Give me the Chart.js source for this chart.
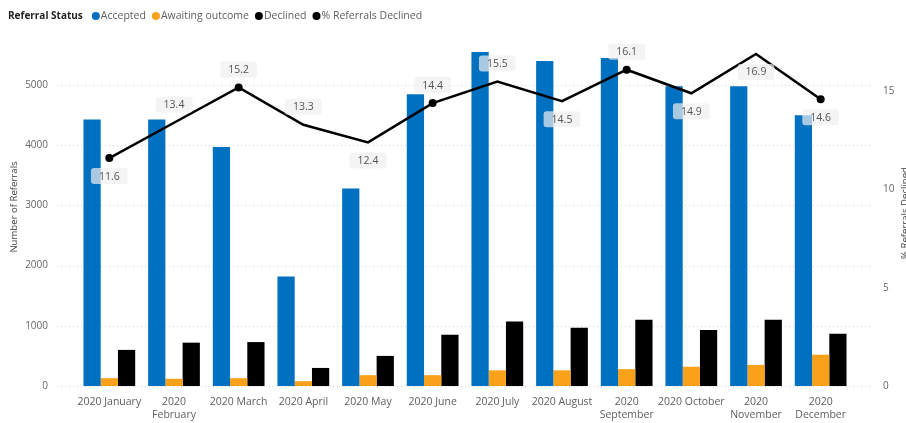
<!DOCTYPE html>
<html>
<head>
<meta charset="utf-8">
<title>Referral Status 2020</title>
<script src="https://cdn.jsdelivr.net/npm/chart.js@4.4.1/dist/chart.umd.min.js"></script>
<style>
  html, body { margin: 0; padding: 0; background: #fff; }
  #wrap { width: 906px; height: 423px; position: relative; }
</style>
</head>
<body>
<div id="wrap"><canvas id="referrals"></canvas></div>
<script>
const months = [
    '2020 January', ['2020', 'February'], '2020 March', '2020 April', '2020 May', '2020 June',
    '2020 July', '2020 August', ['2020', 'September'], '2020 October', ['2020', 'November'], ['2020', 'December']
];
const accepted = [4430, 4430, 3970, 1820, 3280, 4850, 5550, 5400, 5450, 4980, 4980, 4500];
const awaiting = [130, 120, 130, 80, 180, 180, 260, 260, 280, 320, 350, 520];
const declined = [600, 720, 730, 300, 500, 850, 1070, 970, 1100, 930, 1100, 870];
const pctDeclined = [11.6, 13.4, 15.2, 13.3, 12.4, 14.4, 15.5, 14.5, 16.1, 14.9, 16.9, 14.6];

const countTicks = [0, 1000, 2000, 3000, 4000, 5000];
const pctTicks = [0, 5, 10, 15];

const FONT = '"Open Sans", "DejaVu Sans", sans-serif';
const BLUE = '#0070C0';
const ORANGE = '#F9A11B';

// which line labels sit under their point instead of above
const labelsBelow = [0, 4, 7, 9, 10, 11];
// points that get a visible marker
const markedPoints = [0, 2, 5, 8, 11];

const legendItems = [
    {text: 'Accepted', color: BLUE},
    {text: 'Awaiting outcome', color: ORANGE},
    {text: 'Declined', color: '#000'},
    {text: '% Referrals Declined', color: '#000'}
];

function roundRect(ctx, x, y, w, h, r){
    ctx.beginPath();
    ctx.moveTo(x + r, y);
    ctx.arcTo(x + w, y, x + w, y + h, r);
    ctx.arcTo(x + w, y + h, x, y + h, r);
    ctx.arcTo(x, y + h, x, y, r);
    ctx.arcTo(x, y, x + w, y, r);
    ctx.closePath();
}

const decorations = {
    id: 'decorations',
    beforeDatasetsDraw(chart){
        // dotted gridlines, running a little past the plot on both sides
        const {ctx, chartArea} = chart;
        const y = chart.scales.y;
        ctx.save();
        ctx.strokeStyle = '#d4d4d4';
        ctx.lineWidth = 1;
        ctx.setLineDash([1, 3]);
        y.ticks.forEach(t => {
            const py = Math.round(y.getPixelForValue(t.value)) + 0.5;
            ctx.beginPath();
            ctx.moveTo(chartArea.left - 20, py);
            ctx.lineTo(chartArea.right + 19, py);
            ctx.stroke();
        });
        ctx.restore();
    },
    afterDatasetsDraw(chart){
        // value boxes on the % declined line
        const {ctx} = chart;
        const meta = chart.getDatasetMeta(3);
        const values = chart.data.datasets[3].data;
        ctx.save();
        ctx.font = '10.5px ' + FONT;
        ctx.textAlign = 'center';
        ctx.textBaseline = 'middle';
        meta.data.forEach((pt, i) => {
            const text = values[i].toFixed(1);
            const w = ctx.measureText(text).width + 16;
            const h = 16;
            const cy = labelsBelow.includes(i) ? pt.y + 18 : pt.y - 18;
            roundRect(ctx, pt.x - w / 2, cy - h / 2, w, h, 3);
            ctx.fillStyle = 'rgba(240,240,240,0.7)';
            ctx.fill();
            ctx.fillStyle = '#555';
            ctx.fillText(text, pt.x, cy + 0.5);
        });
        ctx.restore();
    },
    afterDraw(chart){
        const {ctx} = chart;
        ctx.save();
        // legend row
        ctx.textBaseline = 'middle';
        ctx.textAlign = 'left';
        ctx.font = 'bold 10px ' + FONT;
        ctx.fillStyle = '#252423';
        ctx.fillText('Referral Status', 8, 16);
        let x = 8 + ctx.measureText('Referral Status').width + 9;
        ctx.font = '10.5px ' + FONT;
        legendItems.forEach(item => {
            ctx.fillStyle = item.color;
            ctx.beginPath();
            ctx.arc(x + 4, 16, 4, 0, Math.PI * 2);
            ctx.fill();
            ctx.fillStyle = '#605E5C';
            ctx.fillText(item.text, x + 9, 16);
            x += 9 + ctx.measureText(item.text).width + 6;
        });

        // axis titles
        ctx.font = '9.6px ' + FONT;
        ctx.fillStyle = '#444';
        ctx.textAlign = 'center';
        ctx.save();
        ctx.translate(14, 207);
        ctx.rotate(-Math.PI / 2);
        ctx.fillText('Number of Referrals', 0, 0);
        ctx.restore();
        ctx.save();
        ctx.textBaseline = 'alphabetic';
        ctx.translate(908, 213);
        ctx.rotate(-Math.PI / 2);
        ctx.fillText('% Referrals Declined', 0, 0);
        ctx.restore();
        ctx.restore();
    }
};

const barStyle = {
    categoryPercentage: 0.8,
    barPercentage: 1.0,
    borderWidth: 0,
    order: 2
};

new Chart(document.getElementById('referrals').getContext('2d'), {
    data: {
        labels: months,
        datasets: [
            {type: 'bar', label: 'Accepted', data: accepted, backgroundColor: BLUE, yAxisID: 'y', ...barStyle},
            {type: 'bar', label: 'Awaiting outcome', data: awaiting, backgroundColor: ORANGE, yAxisID: 'y', ...barStyle},
            {type: 'bar', label: 'Declined', data: declined, backgroundColor: '#000', yAxisID: 'y', ...barStyle},
            {
                type: 'line',
                label: '% Referrals Declined',
                data: pctDeclined,
                yAxisID: 'y1',
                borderColor: '#000',
                backgroundColor: '#000',
                borderWidth: 2.5,
                tension: 0,
                pointRadius: ctx => markedPoints.includes(ctx.dataIndex) ? 4 : 0,
                pointBorderWidth: 0,
                order: 1
            }
        ]
    },
    options: {
        responsive: true,
        maintainAspectRatio: false,
        animation: false,
        devicePixelRatio: 1,
        layout: {padding: {top: 43, left: 0, right: 0, bottom: 0}},
        plugins: {
            legend: {display: false},
            tooltip: {enabled: true}
        },
        scales: {
            x: {
                grid: {display: false, drawTicks: false},
                border: {display: false},
                ticks: {
                    color: '#605E5C',
                    font: {family: FONT, size: 10.5},
                    padding: 10,
                    maxRotation: 0,
                    autoSkip: false
                },
                afterFit: s => { s.height = 37; }
            },
            y: {
                position: 'left',
                min: 0,
                max: 5700,
                grid: {display: false, drawTicks: false},
                border: {display: false},
                ticks: {
                    color: '#666',
                    font: {family: FONT, size: 10},
                    padding: 29,
                    callback: v => String(v)
                },
                afterBuildTicks: s => { s.ticks = countTicks.map(v => ({value: v})); },
                afterFit: s => { s.width = 77; }
            },
            y1: {
                position: 'right',
                min: 0,
                max: 17.46,
                grid: {display: false, drawTicks: false},
                border: {display: false},
                ticks: {
                    color: '#666',
                    font: {family: FONT, size: 10},
                    padding: 30,
                    callback: v => String(v)
                },
                afterBuildTicks: s => { s.ticks = pctTicks.map(v => ({value: v})); },
                afterFit: s => { s.width = 53; }
            }
        }
    },
    plugins: [decorations]
});
</script>
</body>
</html>
